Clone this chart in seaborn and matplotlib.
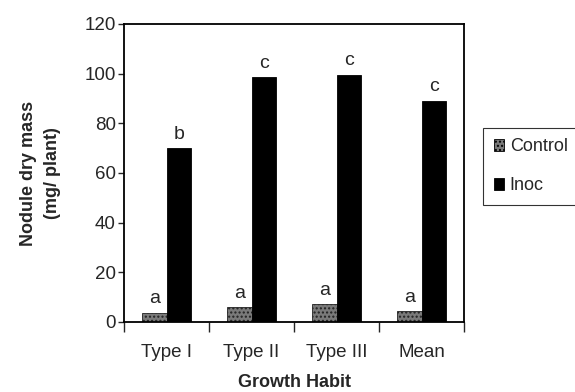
import numpy as np
import pandas as pd
import matplotlib
matplotlib.use("Agg")
import matplotlib.pyplot as plt
import seaborn as sns

# datos
habitos = ["Type I", "Type II", "Type III", "Mean"]
control = [3.6, 6.0, 7.2, 4.4]
inoc = [70, 98.5, 99.5, 89]
letras_control = ["a", "a", "a", "a"]
letras_inoc = ["b", "c", "c", "c"]

df = pd.DataFrame({
    "Growth Habit": habitos * 2,
    "masa": control + inoc,
    "trat": ["Control"] * 4 + ["Inoc"] * 4,
})

sns.set_style("white")
plt.rcParams["font.family"] = ["Liberation Sans", "DejaVu Sans"]

fig = plt.figure(figsize=(5.75, 3.92), dpi=100)
ax = fig.add_axes([0.2157, 0.1786, 0.807 - 0.2157, 0.939 - 0.1786])

sns.barplot(data=df, x="Growth Habit", y="masa", hue="trat",
            palette=["#7a7a7a", "black"], width=0.58, gap=0,
            edgecolor="black", linewidth=0.6, ax=ax, legend=True)

for bar in ax.containers[0]:
    bar.set_hatch("....")
    bar.set_edgecolor("#222222")

for cont, letras in zip(ax.containers, [letras_control, letras_inoc]):
    for bar, txt in zip(cont, letras):
        ax.annotate(txt, (bar.get_x() + bar.get_width() / 2, bar.get_height()),
                    xytext=(0, 4), textcoords="offset points",
                    ha="center", va="bottom", fontsize=14)

ax.set_ylim(0, 120)
ax.set_yticks(range(0, 121, 20))
ax.set_xlim(-0.5, 3.5)
ax.set_xticks([-0.5, 0.5, 1.5, 2.5, 3.5], minor=False)
ax.set_xticklabels([])
ax.set_xticks(range(4), minor=True)
ax.set_xticklabels(habitos, minor=True)
ax.tick_params(axis="x", which="major", direction="out", length=7, width=1, bottom=True)
ax.tick_params(axis="x", which="minor", length=0, pad=16, labelsize=13.5)
ax.tick_params(axis="y", direction="out", length=4, width=1, left=True, labelsize=13.5, pad=2)

for s in ax.spines.values():
    s.set_linewidth(1.3)
    s.set_color("black")

ax.set_ylabel("Nodule dry mass\n(mg/ plant)", fontsize=13, fontweight="bold",
              labelpad=17, linespacing=1.5)
ax.set_xlabel("Growth Habit", fontsize=13, fontweight="bold", labelpad=9)

leg = ax.legend(loc="upper left", bbox_to_anchor=(1.055, 0.652), frameon=True,
                fancybox=False, edgecolor="black", fontsize=13,
                handlelength=0.6, handleheight=0.6, handletextpad=0.3,
                borderpad=0.6, labelspacing=1.2, borderaxespad=0)
leg.get_frame().set_linewidth(0.8)
leg.legend_handles[0].set_hatch("....")

fig.savefig("out.png", dpi=100)
